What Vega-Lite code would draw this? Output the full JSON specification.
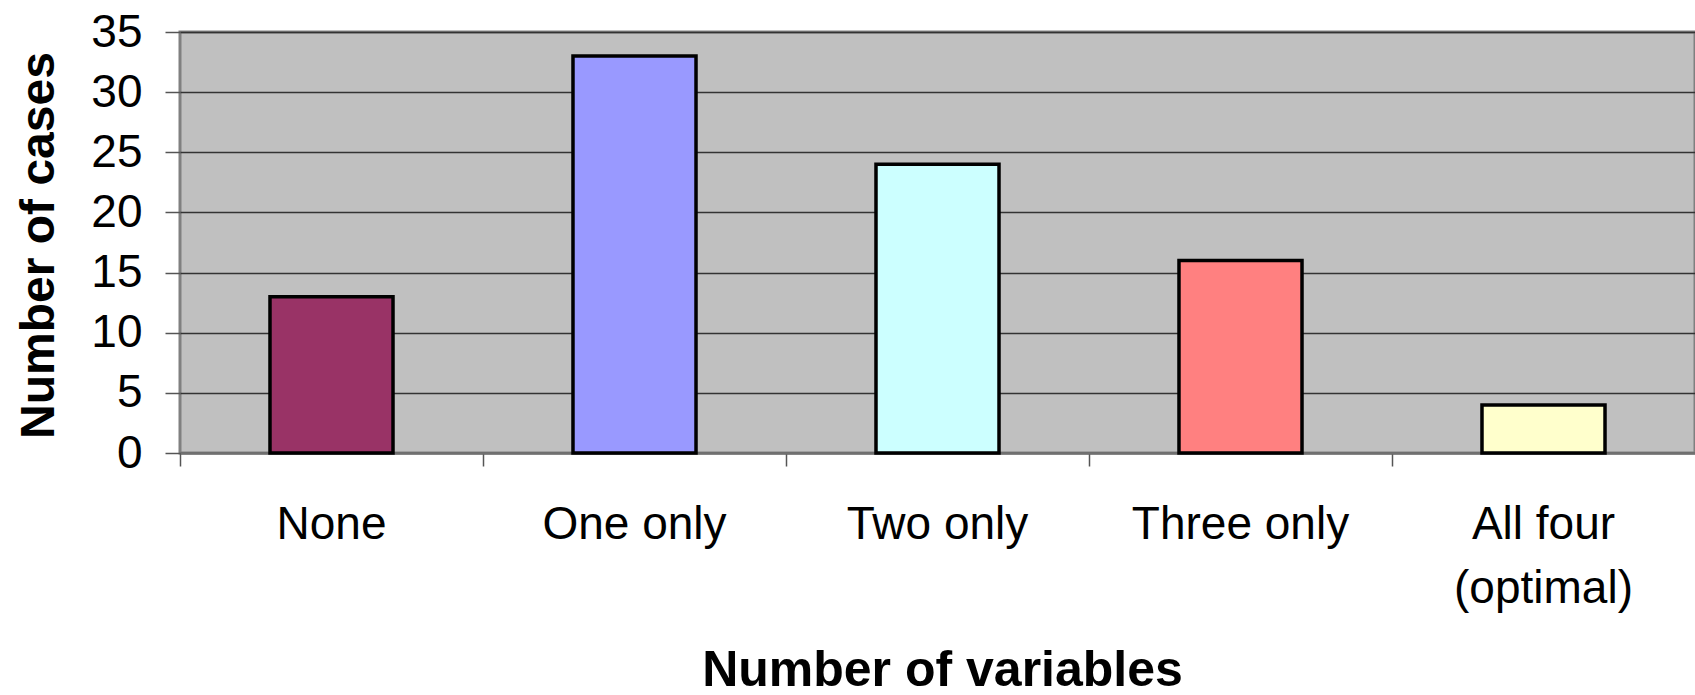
{
  "$schema": "https://vega.github.io/schema/vega-lite/v6.json",
  "width": 1515,
  "height": 421,
  "autosize": {"type": "none"},
  "padding": {"left": 180, "top": 32, "right": 0, "bottom": 242},
  "background": "white",
  "config": {
    "view": {"fill": "#C0C0C0", "stroke": "#808080", "strokeWidth": 3},
    "font": "Liberation Sans"
  },
  "data": {
    "values": [
      {"category": "None", "cases": 13},
      {"category": "One only", "cases": 33},
      {"category": "Two only", "cases": 24},
      {"category": "Three only", "cases": 16},
      {"category": "All four (optimal)", "cases": 4}
    ]
  },
  "mark": {"type": "bar", "width": {"band": 0.406}, "stroke": "black", "strokeWidth": 3.5},
  "encoding": {
    "x": {
      "field": "category",
      "type": "nominal",
      "sort": null,
      "scale": {"paddingInner": 0, "paddingOuter": 0},
      "axis": {
        "title": "Number of variables",
        "titleFont": "Liberation Sans",
        "titleFontSize": 50,
        "titleFontWeight": "bold",
        "titleColor": "black",
        "titleBaseline": "alphabetic",
        "titleY": 232,
        "titleX": 762,
        "labelAngle": 0,
        "labelFont": "Liberation Sans",
        "labelFontSize": 46,
        "labelColor": "black",
        "labelBaseline": "alphabetic",
        "labelPadding": 72,
        "labelLineHeight": 64,
        "labelLimit": 600,
        "labelExpr": "datum.value == 'All four (optimal)' ? ['All four', '(optimal)'] : datum.value",
        "bandPosition": 0,
        "ticks": true,
        "tickSize": 13,
        "tickColor": "#555555",
        "tickWidth": 1.5,
        "domain": true,
        "domainColor": "#707070",
        "domainWidth": 2,
        "grid": false
      }
    },
    "y": {
      "field": "cases",
      "type": "quantitative",
      "scale": {"domain": [0, 35]},
      "axis": {
        "title": "Number of cases",
        "titleFont": "Liberation Sans",
        "titleFontSize": 48,
        "titleFontWeight": "bold",
        "titleColor": "black",
        "titleAngle": 270,
        "titleAlign": "center",
        "titleBaseline": "alphabetic",
        "titleX": -127,
        "titleY": 213,
        "values": [0, 5, 10, 15, 20, 25, 30, 35],
        "labelFont": "Liberation Sans",
        "labelFontSize": 46,
        "labelColor": "black",
        "labelPadding": 23,
        "tickSize": 15,
        "tickColor": "#555555",
        "tickWidth": 1.5,
        "domain": false,
        "grid": true,
        "gridColor": "#333333",
        "gridWidth": 1.5
      }
    },
    "color": {
      "field": "category",
      "type": "nominal",
      "scale": {
        "domain": ["None", "One only", "Two only", "Three only", "All four (optimal)"],
        "range": ["#993366", "#9999FF", "#CCFFFF", "#FF8080", "#FFFFCC"]
      },
      "legend": null
    }
  }
}
